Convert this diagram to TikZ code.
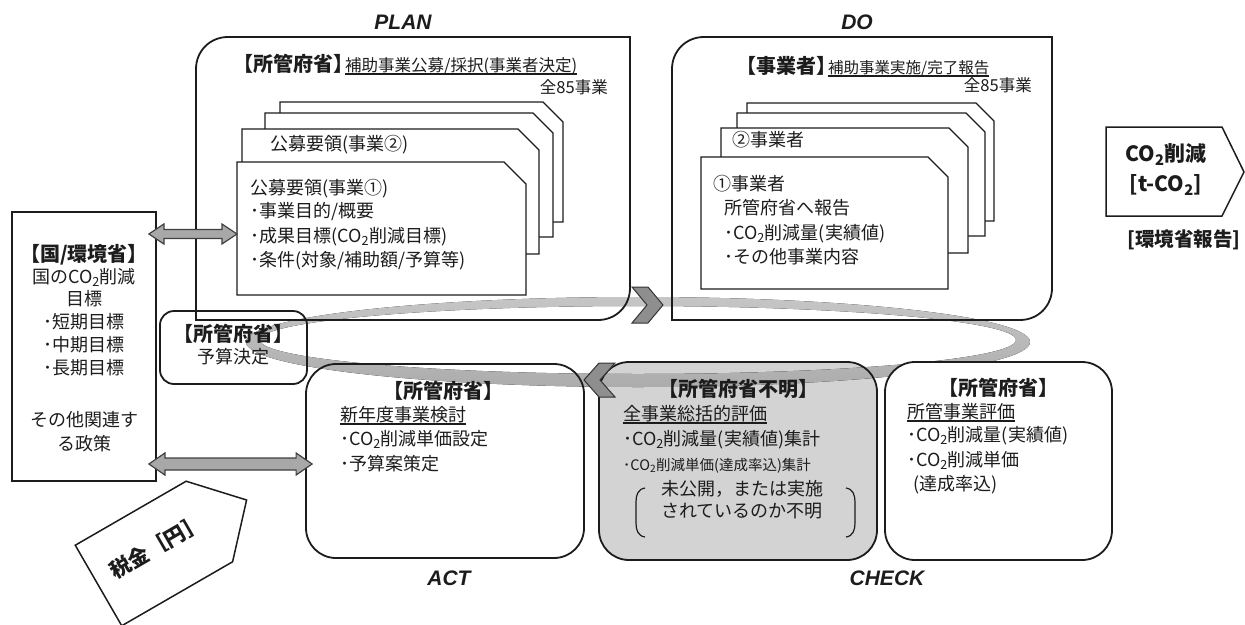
\documentclass[tikz,border=0pt]{standalone}
\usepackage{fontspec}
\setmainfont{Noto Sans CJK JP}
\newfontfamily\phasefont{Liberation Sans}
\usetikzlibrary{calc}
\definecolor{ink}{HTML}{1C1C1C}
\definecolor{arrowgray}{HTML}{A8A8A8}
\definecolor{checkgray}{HTML}{D3D3D3}
\definecolor{chevgray}{HTML}{8E8E8E}
\newcommand\fsz[1]{\fontsize{#1}{#1}\selectfont}
\newcommand\cotwo{CO\textsubscript{2}}
\newcommand\ulbar[1]{\setbox0=\hbox{#1}\rlap{\rule[-3.2pt]{\wd0}{1.3pt}}\box0}
% frame with rounded top-left and bottom-right corners
\newcommand\phasebox[5]{\path[#5] (#1,#4) -- (#1,#2+32) .. controls (#1,#2+14) and (#1+14,#2) .. (#1+32,#2) -- (#3,#2) -- (#3,#4-32) .. controls (#3,#4-14) and (#3-14,#4) .. (#3-32,#4) -- cycle;}
% sheet with a clipped top-right corner
\newcommand\card[5]{\draw[cardsty] (#1,#2) -- (#3-#5,#2) -- (#3,#2+#5) -- (#3,#4) -- (#1,#4) -- cycle;}
% grey two-headed arrow between two named points
\newcommand\twoway[5]{\draw[twowaysty] (#1) -- ($(#1)+(#5,-#4)$) -- ($(#1)+(#5,-#3)$) -- ($(#2)+(-#5,-#3)$) -- ($(#2)+(-#5,-#4)$) -- (#2) -- ($(#2)+(-#5,#4)$) -- ($(#2)+(-#5,#3)$) -- ($(#1)+(#5,#3)$) -- ($(#1)+(#5,#4)$) -- cycle;}
\tikzset{
  txt/.style={inner sep=0pt, text=ink, text height=.78em, text depth=.1em, font=\fsz{18}},
  hdr/.style={txt, font=\fsz{20}\bfseries},
  phase/.style={inner sep=0pt, text=ink, font=\phasefont\bfseries\itshape\fsz{21}},
  frame/.style={draw=ink, line width=1.8pt, rounded corners=30pt},
  cardsty/.style={draw=ink, line width=1.3pt, fill=white},
  plate/.style={draw=ink, line width=1.5pt, fill=white, line join=miter},
  twowaysty/.style={draw=black!75, line width=1.2pt, fill=arrowgray, line join=miter},
  chev/.style={draw=black!80, line width=1pt, fill=chevgray, line join=miter},
}
\begin{document}
\begin{tikzpicture}[x=1pt,y=-1pt]
\useasboundingbox (0,0) rectangle (1245,624);

% ---- backgrounds of the four stage panels
\phasebox{196}{37}{630}{320}{fill=white}
\phasebox{672}{37}{1052}{320}{fill=white}
\fill[white, rounded corners=30pt] (306,364) rectangle (584,558);
\fill[checkgray, rounded corners=30pt] (599,362) rectangle (877,560);

% ---- stacked sheets (PLAN)
\card{280}{102}{563}{222}{20}
\card{265}{113}{553}{237}{20}
\card{242}{129}{539}{254}{21}
\card{237}{162}{526}{295}{22}
% ---- stacked sheets (DO)
\card{747}{103}{994}{221}{18}
\card{737}{113}{985}{236}{19}
\card{721}{128}{968}{253}{19}
\card{701}{157}{948}{289}{20}

% ---- PDCA ring
\fill[even odd rule, top color=gray!45, middle color=gray!75, bottom color=gray!65]
  (638,342) ellipse [x radius=392, y radius=45]
  (638,340) ellipse [x radius=378, y radius=34];

% ---- panel outlines
\phasebox{196}{37}{630}{320}{draw=ink, line width=1.8pt}
\phasebox{672}{37}{1052}{320}{draw=ink, line width=1.8pt}
\coordinate (plan) at (413,178);
\coordinate (do) at (862,178);
\node[frame, minimum width=278pt, minimum height=194pt] (act) at (445,461) {};
\node[frame, minimum width=278pt, minimum height=198pt] (check) at (738,461) {};
\node[frame, fill=white, minimum width=227pt, minimum height=198pt] (eval) at (998.5,461) {};
\node[frame, rounded corners=14pt, minimum width=147pt, minimum height=73pt] (budget) at (233.5,347.5) {};
\node[frame, sharp corners, fill=white, minimum width=144pt, minimum height=269pt] (gov) at (84,346.5) {};

% ---- direction marks on the ring
\draw[chev] (632,287) -- (648,287) -- (663,305) -- (648,323) -- (632,323) -- (647,305) -- cycle;
\draw[chev] (615,363) -- (599,363) -- (584,380) -- (599,397) -- (615,397) -- (600,380) -- cycle;

% ---- two-way links from the ministry box
\coordinate (y1) at (0,234);
\coordinate (y2) at (0,464);
\coordinate (a1l) at ($(gov.east |- y1)+(-8,0)$);
\coordinate (a1r) at (237,234);
\coordinate (a2l) at ($(gov.east |- y2)+(-8,0)$);
\coordinate (a2r) at ($(act.west |- y2)+(7,0)$);
\twoway{a1l}{a1r}{4.5}{10}{15}
\twoway{a2l}{a2r}{6}{11}{16}

% ---- CO2 output arrow
\draw[plate] (1106,127) -- (1222,127) -- (1244,172) -- (1222,216) -- (1106,216) -- cycle;
\node[txt, font=\fsz{21}\bfseries] (co2l1) at (1166,158) {\cotwo 削減};
\node[txt, font=\fsz{21}\bfseries] (co2l2) at (1166,188) {[t-\cotwo]};
\node[txt, font=\fsz{19.5}\bfseries] (envrep) at (1184,243) {[環境省報告]};

% ---- tax input arrow
\begin{scope}[shift={(98.5,585.5)}, rotate=30]
  \draw[plate] (0,-46.5) -- (128,-46.5) -- (171,0) -- (128,46.5) -- (0,46.5) -- cycle;
  \coordinate (taxc) at (70,0);
\end{scope}
\node[txt, rotate=30, font=\fsz{21}\bfseries] (tax) at (taxc) {税金［円］};

% ---- stage labels
\node[phase] (lplan) at (403,22) {PLAN};
\node[phase] (ldo) at (857,22) {DO};
\node[phase] (lact) at (449,578) {ACT};
\node[phase] (lcheck) at (887,578) {CHECK};

% ---- PLAN texts
\node[txt, anchor=west, font=\fsz{16.5}] (plantitle) at (233,68) {{\fsz{20}\bfseries 【所管府省】}\kern-8pt\ulbar{補助事業公募/採択(事業者決定)}};
\node[txt, anchor=east, font=\fsz{16.5}] (plancount) at (608,90) {全85事業};
\node[txt, anchor=west] (plancard2) at (270,147) {公募要領(事業②)};
\node[txt, anchor=west] (plancard1) at (250,191) {公募要領(事業①)};
\node[txt, anchor=west] (planl1) at (250,214) {･事業目的/概要};
\node[txt, anchor=west] (planl2) at (250,239) {･成果目標(\cotwo 削減目標)};
\node[txt, anchor=west] (planl3) at (250,263) {･条件(対象/補助額/予算等)};

% ---- DO texts
\node[txt, anchor=west, font=\fsz{15.5}] (dotitle) at (736,70) {{\fsz{20}\bfseries 【事業者】}\kern-8pt\ulbar{補助事業実施/完了報告}};
\node[txt, anchor=east, font=\fsz{16.5}] (docount) at (1032,88) {全85事業};
\node[txt, anchor=west] (docard2) at (732,143) {②事業者};
\node[txt, anchor=west] (docard1) at (713,187) {①事業者};
\node[txt, anchor=west] (dol1) at (724,211) {所管府省へ報告};
\node[txt, anchor=west] (dol2) at (724,236) {･\cotwo 削減量(実績値)};
\node[txt, anchor=west] (dol3) at (724,260) {･その他事業内容};

% ---- ministry box texts
\node[hdr] (govh) at (84,258) {【国/環境省】};
\node[txt] (gov1) at (84,280) {国の\cotwo 削減};
\node[txt] (gov2) at (84,302) {目標};
\node[txt] (gov3) at (84,325) {･短期目標};
\node[txt] (gov4) at (84,348) {･中期目標};
\node[txt] (gov5) at (84,371) {･長期目標};
\node[txt] (gov6) at (84,423) {その他関連す};
\node[txt] (gov7) at (84,447) {る政策};

% ---- budget box texts
\node[hdr] (budh) at (233,338) {【所管府省】};
\node[txt] (bud1) at (233,360) {予算決定};

% ---- ACT texts
\node[hdr] (acth) at (443,395) {【所管府省】};
\node[txt, anchor=west] (act1) at (340,418) {\ulbar{新年度事業検討}};
\node[txt, anchor=west] (act2) at (340,442) {･\cotwo 削減単価設定};
\node[txt, anchor=west] (act3) at (340,467) {･予算案策定};

% ---- CHECK (overall) texts
\node[hdr] (chkh) at (738,393) {【所管府省不明】};
\node[txt, anchor=west] (chk1) at (623,417) {\ulbar{全事業総括的評価}};
\node[txt, anchor=west] (chk2) at (623,442) {･\cotwo 削減量(実績値)集計};
\node[txt, anchor=west, font=\fsz{14.5}] (chk3) at (623,467) {･\cotwo 削減単価(達成率込)集計};
\node[txt] (chk4) at (742,492) {未公開，または実施};
\node[txt] (chk5) at (742,514) {されているのか不明};
\draw[ink, line width=1.2pt] (645,488) .. controls (638,489) and (636,495) .. (636,502) -- (636,523) .. controls (636,530) and (638,536) .. (645,537);
\draw[ink, line width=1.2pt] (846,488) .. controls (853,489) and (855,495) .. (855,502) -- (855,523) .. controls (855,530) and (853,536) .. (846,537);

% ---- CHECK (per ministry) texts
\node[hdr] (evh) at (998,392) {【所管府省】};
\node[txt, anchor=west] (ev1) at (907,415) {\ulbar{所管事業評価}};
\node[txt, anchor=west] (ev2) at (907,438) {･\cotwo 削減量(実績値)};
\node[txt, anchor=west] (ev3) at (907,463) {･\cotwo 削減単価};
\node[txt, anchor=west] (ev4) at (913,487) {(達成率込)};
\end{tikzpicture}
\end{document}
